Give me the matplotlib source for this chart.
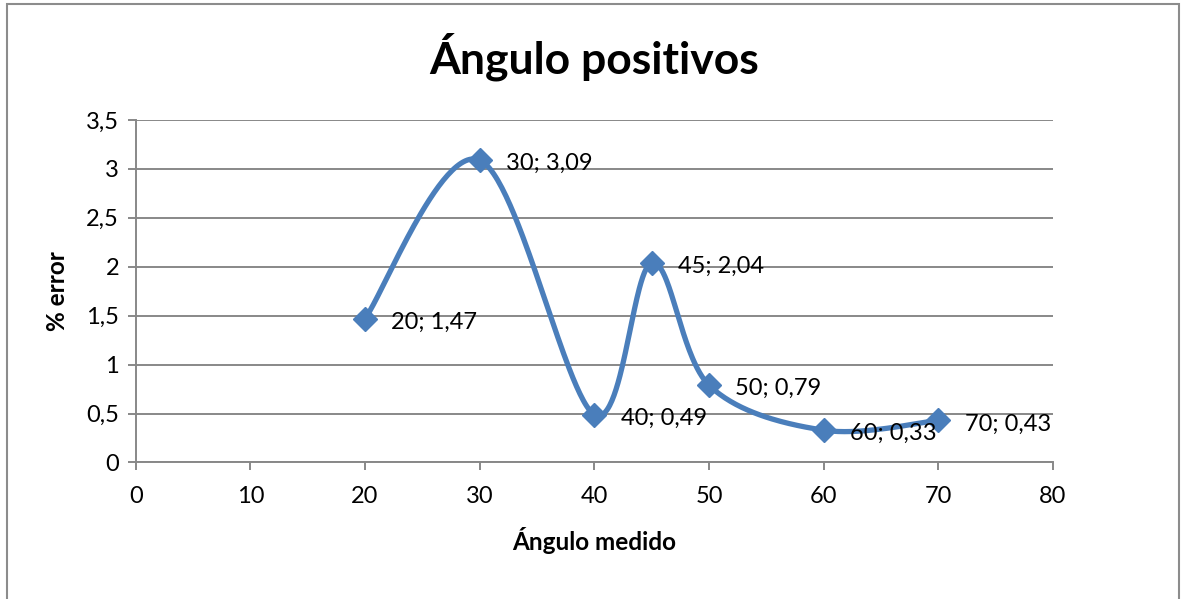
import numpy as np
import matplotlib
matplotlib.use("Agg")
import matplotlib.pyplot as plt
from matplotlib.patches import Rectangle

plt.rcParams['font.family'] = ['Lato', 'DejaVu Sans']

# Measured angle vs. percentage error
angles = [20, 30, 40, 45, 50, 60, 70]
errors = [1.47, 3.09, 0.49, 2.04, 0.79, 0.33, 0.43]
point_labels = ["20; 1,47", "30; 3,09", "40; 0,49", "45; 2,04",
                "50; 0,79", "60; 0,33", "70; 0,43"]

x_ticks = [0, 10, 20, 30, 40, 50, 60, 70, 80]
y_ticks = [0, 0.5, 1, 1.5, 2, 2.5, 3, 3.5]
y_tick_labels = ["0", "0,5", "1", "1,5", "2", "2,5", "3", "3,5"]

LINE_BLUE = "#4A7EBB"
GRID_GRAY = "#888888"


def smooth_curve(xs, ys, n=60):
    """Cubic Bezier spline through the points (Catmull-Rom tangents)."""
    pts = np.column_stack([xs, ys]).astype(float)
    ext = np.vstack([pts[0], pts, pts[-1]])
    out = []
    t = np.linspace(0, 1, n)[:, None]
    for i in range(len(pts) - 1):
        p0, p3 = ext[i + 1], ext[i + 2]
        c1 = p0 + (ext[i + 2] - ext[i]) / 6.0
        c2 = p3 - (ext[i + 3] - ext[i + 1]) / 6.0
        seg = ((1 - t) ** 3) * p0 + 3 * ((1 - t) ** 2) * t * c1 \
            + 3 * (1 - t) * t ** 2 * c2 + t ** 3 * p3
        out.append(seg if i == 0 else seg[1:])
    curve = np.vstack(out)
    return curve[:, 0], curve[:, 1]


fig = plt.figure(figsize=(11.81, 5.99), dpi=100)
ax = fig.add_axes([0.1149, 0.2279, 0.7767, 0.5718])

# outer chart frame
fig.patches.append(Rectangle((7 / 1181, -0.05), (1179 - 7) / 1181, 1 - 4 / 599 + 0.05,
                             transform=fig.transFigure, fill=False,
                             edgecolor="#8c8c8c", linewidth=1.5, zorder=0))

ax.set_xlim(0, 80)
ax.set_ylim(0, 3.5)
ax.set_xticks(x_ticks)
ax.set_xticklabels([str(v) for v in x_ticks])
ax.set_yticks(y_ticks)
ax.set_yticklabels(y_tick_labels)

ax.grid(axis="y", color=GRID_GRAY, linewidth=1.4)
ax.set_axisbelow(True)
for side in ("top", "right"):
    ax.spines[side].set_visible(False)
for side in ("left", "bottom"):
    ax.spines[side].set_color(GRID_GRAY)
    ax.spines[side].set_linewidth(1.4)
ax.tick_params(axis="both", direction="out", length=6, width=1.4,
               color=GRID_GRAY, labelsize=17, labelcolor="black")
ax.tick_params(axis="x", pad=11)
ax.tick_params(axis="y", pad=6)

cx, cy = smooth_curve(angles, errors)
ax.plot(cx, cy, color=LINE_BLUE, linewidth=3.8, solid_capstyle="round", zorder=3)
ax.plot(angles, errors, linestyle="none", marker="D", markersize=12.5,
        color=LINE_BLUE, zorder=4, clip_on=False)

for xv, yv, lab in zip(angles, errors, point_labels):
    ax.annotate(lab, (xv, yv), xytext=(19, -2.5), textcoords="offset points",
                ha="left", va="center", fontsize=17, color="black", zorder=5)

ax.set_xlabel("Ángulo medido", fontsize=17.5, fontweight="bold", labelpad=14)
ax.set_ylabel("% error", fontsize=17.5, fontweight="bold", labelpad=12)
fig.text(0.503, 0.905, "Ángulo positivos", ha="center", va="center",
         fontsize=32, fontweight="bold")

fig.savefig("out.png", dpi=100)
